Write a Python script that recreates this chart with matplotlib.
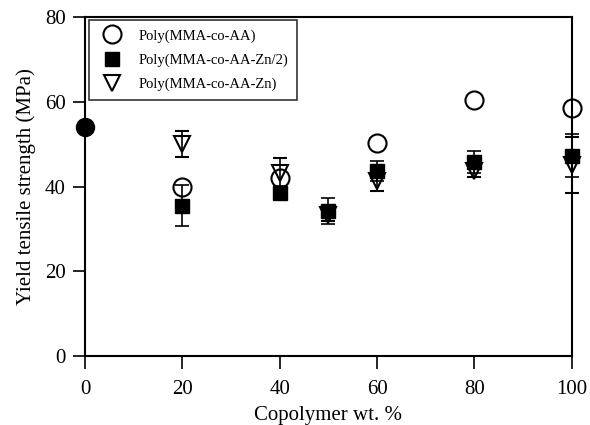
import matplotlib
matplotlib.use('Agg')
import matplotlib.pyplot as plt
from matplotlib.lines import Line2D

plt.rcParams['font.family'] = ['Liberation Serif', 'DejaVu Serif']

# Yield tensile strength vs copolymer content
pmma_x = [0]
pmma_y = [54]

aa_x = [20, 40, 60, 80, 100]
aa_y = [39.8, 42.1, 50.2, 60.4, 58.5]

zn2_x = [20, 40, 50, 60, 80, 100]
zn2_y = [35.5, 38.6, 34.2, 43.7, 45.7, 47.3]
zn2_err = [4.8, 1.5, 3.0, 2.3, 2.6, 5.1]

zn_x = [20, 40, 50, 60, 80, 100]
zn_y = [50.0, 43.2, 33.4, 41.4, 43.7, 45.0]
zn_err = [3.0, 3.6, 1.5, 2.5, 1.5, 6.6]

fig = plt.figure(figsize=(5.9, 4.25), dpi=100)
ax = fig.add_axes([0.144, 0.162, 0.825, 0.798])

tri = ax.errorbar(zn_x, zn_y, yerr=zn_err, fmt='v', ms=12, mfc='none', mec='black',
                  mew=1.5, ecolor='black', elinewidth=1.2, capsize=5, capthick=1.2,
                  zorder=3)
sq = ax.errorbar(zn2_x, zn2_y, yerr=zn2_err, fmt='s', ms=10, mfc='black', mec='black',
                 ecolor='black', elinewidth=1.2, capsize=5, capthick=1.2, zorder=4)
circ = ax.plot(aa_x, aa_y, 'o', ms=13, mfc='none', mec='black', mew=1.5, zorder=5)
ax.plot(pmma_x, pmma_y, 'o', ms=13, color='black', clip_on=False, zorder=6)

# keep markers on the frame edges visible
for c in (tri, sq):
    for art in c.get_children():
        art.set_clip_on(False)
for ln in circ:
    ln.set_clip_on(False)

ax.set_xlim(0, 100)
ax.set_ylim(0, 80)
ax.set_xticks([0, 20, 40, 60, 80, 100])
ax.set_yticks([0, 20, 40, 60, 80])
ax.tick_params(direction='out', length=9, width=1.2, labelsize=15)
ax.tick_params(axis='x', pad=8)
ax.tick_params(axis='y', pad=5)
for s in ax.spines.values():
    s.set_linewidth(1.5)

ax.set_xlabel('Copolymer wt. %', fontsize=15, labelpad=5)
ax.set_ylabel('Yield tensile strength (MPa)', fontsize=15, labelpad=6)

handles = [
    Line2D([], [], ls='none', marker='o', ms=13, mfc='none', mec='black', mew=1.5),
    Line2D([], [], ls='none', marker='s', ms=10, mfc='black', mec='black'),
    Line2D([], [], ls='none', marker='v', ms=12, mfc='none', mec='black', mew=1.5),
]
labels = ['Poly(MMA-co-AA)', 'Poly(MMA-co-AA-Zn/2)', 'Poly(MMA-co-AA-Zn)']
leg = ax.legend(handles, labels, loc='upper left', bbox_to_anchor=(0.008, 0.99),
                fontsize=10.5, frameon=True, fancybox=False, edgecolor='black',
                borderaxespad=0.0, handletextpad=0.8, labelspacing=0.75,
                borderpad=0.6)
leg.get_frame().set_linewidth(1.2)

fig.savefig('out.png', dpi=100)
